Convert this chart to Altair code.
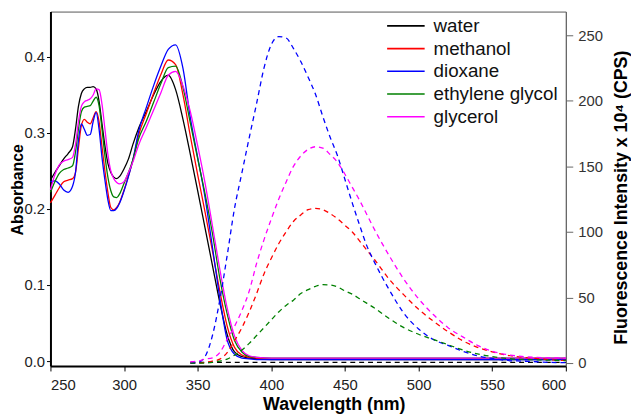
import altair as alt
import pandas as pd

solvents = ["water", "methanol", "dioxane", "ethylene glycol", "glycerol"]
colors = ["#000000", "#ff0000", "#0000ff", "#008000", "#ff00ff"]

# Absorbance spectra (left axis)
abs_wl = [250, 253, 256, 259, 262, 265, 267, 269, 271, 273, 275, 277, 279, 281, 283, 285, 287, 289,
          291, 293, 295, 297, 300, 303, 306, 310, 315, 320, 325, 330, 335, 340, 345, 350, 355, 360,
          365, 370, 375, 380, 385, 390, 400, 450, 500, 550, 600]
abs_water = [0.238, 0.248, 0.257, 0.266, 0.273, 0.282, 0.305, 0.335, 0.352, 0.358, 0.360, 0.360, 0.361,
             0.358, 0.342, 0.312, 0.283, 0.260, 0.248, 0.242, 0.240, 0.243, 0.253, 0.266, 0.285, 0.307,
             0.328, 0.350, 0.368, 0.376, 0.357, 0.318, 0.272, 0.224, 0.175, 0.126, 0.077, 0.035, 0.012,
             0.006, 0.004, 0.003, 0.002, 0.002, 0.002, 0.002, 0.002]
abs_methanol = [0.208, 0.218, 0.228, 0.236, 0.238, 0.240, 0.248, 0.280, 0.310, 0.318, 0.314, 0.312, 0.320,
                0.328, 0.315, 0.282, 0.250, 0.222, 0.202, 0.199, 0.202, 0.209, 0.225, 0.244, 0.264, 0.298,
                0.325, 0.352, 0.377, 0.396, 0.390, 0.350, 0.296, 0.245, 0.196, 0.145, 0.092, 0.046, 0.018,
                0.008, 0.005, 0.004, 0.003, 0.003, 0.003, 0.003, 0.003]
abs_dioxane = [0.236, 0.237, 0.233, 0.225, 0.222, 0.230, 0.248, 0.290, 0.312, 0.305, 0.297, 0.298, 0.315,
               0.327, 0.305, 0.268, 0.238, 0.212, 0.198, 0.198, 0.201, 0.208, 0.224, 0.243, 0.265, 0.303,
               0.333, 0.362, 0.388, 0.410, 0.416, 0.385, 0.320, 0.268, 0.215, 0.150, 0.083, 0.028, 0.009,
               0.004, 0.003, 0.002, 0.002, 0.002, 0.002, 0.002, 0.002]
abs_eglycol = [0.222, 0.236, 0.247, 0.252, 0.254, 0.257, 0.275, 0.305, 0.328, 0.334, 0.335, 0.336, 0.342,
               0.347, 0.336, 0.305, 0.270, 0.242, 0.224, 0.216, 0.215, 0.220, 0.234, 0.248, 0.265, 0.293,
               0.315, 0.340, 0.365, 0.386, 0.388, 0.360, 0.313, 0.266, 0.220, 0.168, 0.109, 0.062, 0.027,
               0.012, 0.006, 0.005, 0.004, 0.004, 0.004, 0.004, 0.004]
abs_glycerol = [0.225, 0.245, 0.258, 0.263, 0.265, 0.268, 0.285, 0.315, 0.335, 0.341, 0.343, 0.345, 0.350,
                0.358, 0.357, 0.338, 0.305, 0.272, 0.250, 0.240, 0.235, 0.233, 0.236, 0.248, 0.262, 0.285,
                0.307, 0.330, 0.353, 0.376, 0.381, 0.362, 0.328, 0.283, 0.234, 0.178, 0.121, 0.070, 0.033,
                0.014, 0.007, 0.005, 0.004, 0.004, 0.004, 0.004, 0.004]

# Fluorescence spectra (right axis, x 10^4 CPS)
fl_wl = [345, 350, 355, 360, 365, 370, 375, 380, 385, 390, 395, 400, 405, 410, 415, 420, 425, 430, 435,
         440, 445, 450, 455, 460, 465, 470, 480, 490, 500, 510, 520, 530, 540, 550, 560, 570, 580, 590, 600]
fl_water = [0.5, 0.5, 0.5, 0.5, 0.5, 0.5, 0.5, 0.5, 0.5, 0.5, 0.5, 0.5, 0.5, 0.5, 0.5, 0.5, 0.5, 0.5, 0.5,
            0.5, 0.5, 0.5, 0.5, 0.5, 0.5, 0.5, 0.5, 0.5, 0.5, 0.5, 0.5, 0.5, 0.5, 0.5, 0.5, 0.5, 0.5, 0.5, 0.5]
fl_methanol = [0, 0, 0.5, 1.5, 3, 8, 17, 27, 39, 53, 68, 80, 91, 100, 108, 113, 117, 118, 117,
               114, 110, 105, 100, 93, 86, 79, 64, 52, 41, 32, 24, 17, 12, 8.5, 6, 4.5, 3.5, 2.5, 2]
fl_dioxane = [0, 0.5, 5, 21, 48, 82, 118, 145, 172, 198, 225, 243, 249, 248, 240, 230, 218, 205, 188,
              172, 158, 140, 122, 105, 89, 77, 56, 38, 26, 18, 13.5, 9, 5.5, 3.5, 2, 1.5, 1, 0.5, 0.3]
fl_eglycol = [0, 0, 0, 0.5, 1.5, 3, 6, 10, 15, 21, 27, 33, 39, 44, 48, 53, 56, 58.5, 59.8,
              59.5, 58, 55, 52.5, 49, 45.5, 42, 34, 27, 22, 18, 14, 10, 7, 5, 3.5, 2.8, 2.5, 2.2, 2]
fl_glycerol = [1, 1.5, 3, 4, 8, 18, 28, 40, 55, 76, 94, 110, 125, 138, 150, 158, 163, 165, 164,
               159, 153, 144, 134, 124, 113, 102, 82, 64, 49, 37, 27, 20, 13.5, 9, 6.5, 5, 4.3, 4, 3.8]

x_ticks = [250, 300, 350, 400, 450, 500, 550, 600]
abs_ticks = [0.0, 0.1, 0.2, 0.3, 0.4]
fl_ticks = [0, 50, 100, 150, 200, 250]


def long_table(wl, series):
    rows = []
    for name, vals in zip(solvents, series):
        for w, v in zip(wl, vals):
            rows.append({"wl": w, "val": v, "solvent": name})
    return pd.DataFrame(rows)


df_abs = long_table(abs_wl, [abs_water, abs_methanol, abs_dioxane, abs_eglycol, abs_glycerol])
df_fl = long_table(fl_wl, [fl_water, fl_methanol, fl_dioxane, fl_eglycol, fl_glycerol])

FONT = "Liberation Sans"

color = alt.Color(
    "solvent:N",
    scale=alt.Scale(domain=solvents, range=colors),
    legend=alt.Legend(
        title=None, orient="none", legendX=340, legendY=4,
        symbolType="M-1,0H3", symbolSize=361, symbolStrokeWidth=1.6,
        symbolDash=[1, 0],
        labelFont=FONT, labelFontSize=19, labelColor="#111",
        labelOffset=27, rowPadding=2, padding=0,
    ),
)

x = alt.X(
    "wl:Q",
    scale=alt.Scale(domain=[250, 600], nice=False, zero=False),
    axis=alt.Axis(
        values=x_ticks, title="Wavelength (nm)", grid=False,
        domainColor="#000", domainWidth=2, tickColor="#000", tickSize=5,
        labelFont=FONT, labelFontSize=15, labelColor="#222", labelPadding=7,
        titleFont=FONT, titleFontSize=18, titleFontWeight="bold", titleColor="#000",
        titleX=287, titleY=44, titleBaseline="alphabetic", titleAlign="center",
    ),
)

abs_layer = alt.Chart(df_abs).mark_line(strokeWidth=1.3, interpolate="monotone").encode(
    x=x,
    y=alt.Y(
        "val:Q",
        scale=alt.Scale(domain=[-0.0065, 0.4597], nice=False, zero=False),
        axis=alt.Axis(
            values=abs_ticks, format=".1f", title="Absorbance", grid=False, orient="left",
            domainColor="#000", domainWidth=2, tickColor="#000", tickSize=4,
            labelFont=FONT, labelFontSize=15, labelColor="#222", labelPadding=2,
            titleFont=FONT, titleFontSize=16, titleFontWeight="bold", titleColor="#000",
            titleX=-33, titleY=180, titleAngle=270, titleBaseline="middle", titleAlign="center",
        ),
    ),
    color=color,
)

fl_layer = alt.Chart(df_fl).mark_line(strokeWidth=1.3, strokeDash=[5, 4], interpolate="monotone").encode(
    x=x,
    y=alt.Y(
        "val:Q",
        scale=alt.Scale(domain=[-2.26, 268.1], nice=False, zero=False),
        axis=alt.Axis(
            values=fl_ticks, title="Fluorescence Intensity x 10⁴ (CPS)", grid=False, orient="right",
            domainColor="#666", domainWidth=1, tickColor="#666", tickSize=7,
            labelFont=FONT, labelFontSize=15, labelColor="#333", labelPadding=5,
            titleFont=FONT, titleFontSize=18, titleFontWeight="bold", titleColor="#000",
            titleX=56, titleY=188, titleAngle=270, titleBaseline="middle", titleAlign="center",
        ),
    ),
    color=color,
)

chart = (
    alt.layer(abs_layer, fl_layer)
    .resolve_scale(y="independent")
    .properties(
        width=522, height=359,
        padding={"left": 43, "top": 1, "right": 66, "bottom": 49},
        autosize=alt.AutoSizeParams(type="none"),
        background="#ffffff",
    )
    .configure_view(stroke="#555", strokeWidth=1)
)

chart.save("out.html", embed_options={"renderer": "svg", "actions": False})
